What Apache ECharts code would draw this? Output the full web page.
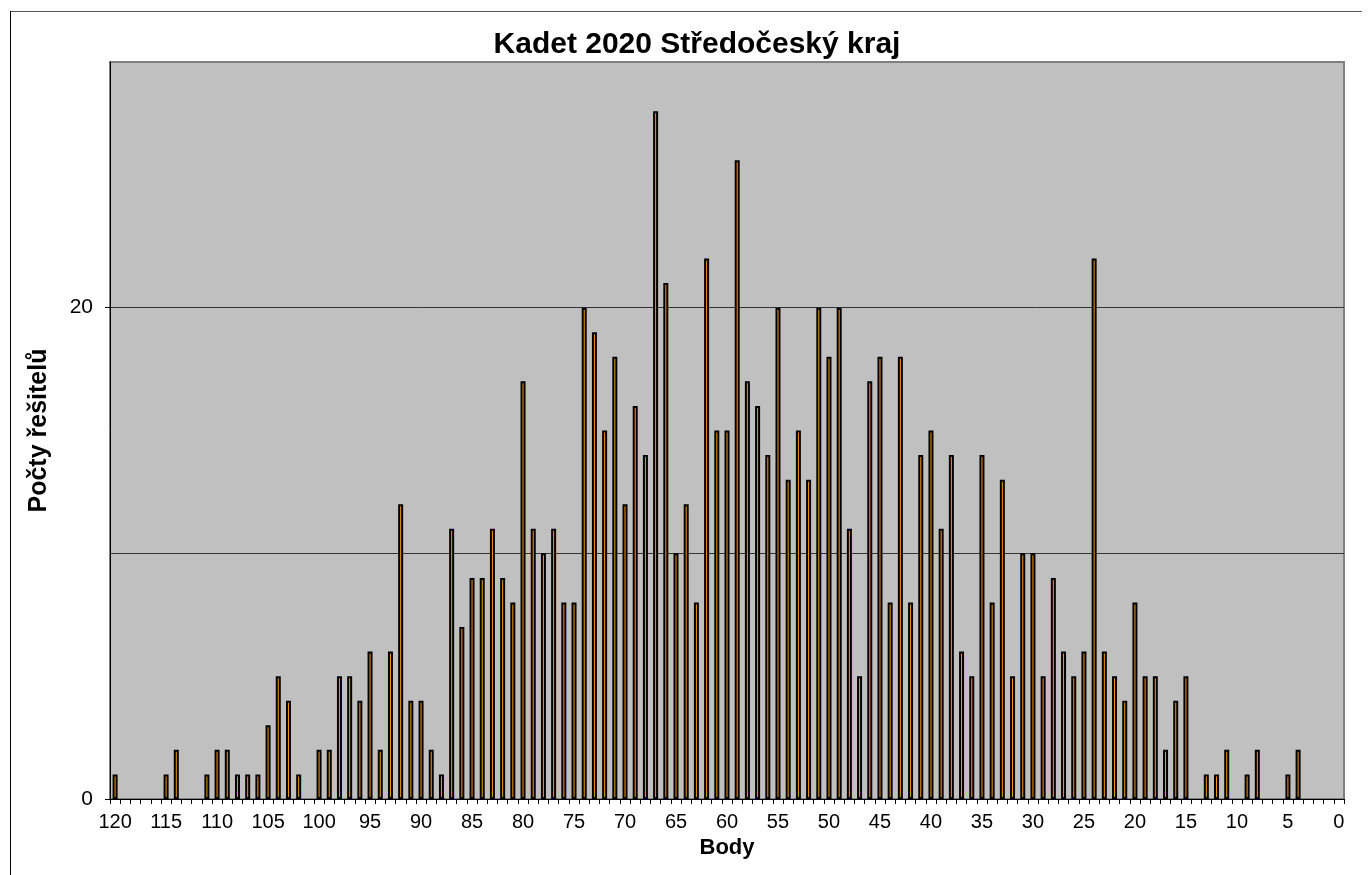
<!DOCTYPE html>
<html>
<head>
<meta charset="utf-8">
<script src="https://cdn.jsdelivr.net/npm/echarts@6/dist/echarts.min.js"></script>
<style>
html,body{margin:0;padding:0;background:#fff;}
#chart{width:1370px;height:875px;}
</style>
</head>
<body>
<div id="chart"></div>
<script>
var titleText = 'Kadet 2020 Středočeský kraj';
var xAxisName = 'Body';
var yAxisName = 'Počty řešitelů';
var categories = [
  '120','119','118','117','116','115','114','113','112','111',
  '110','109','108','107','106','105','104','103','102','101',
  '100','99','98','97','96','95','94','93','92','91',
  '90','89','88','87','86','85','84','83','82','81',
  '80','79','78','77','76','75','74','73','72','71',
  '70','69','68','67','66','65','64','63','62','61',
  '60','59','58','57','56','55','54','53','52','51',
  '50','49','48','47','46','45','44','43','42','41',
  '40','39','38','37','36','35','34','33','32','31',
  '30','29','28','27','26','25','24','23','22','21',
  '20','19','18','17','16','15','14','13','12','11',
  '10','9','8','7','6','5','4','3','2','1',
  '0'
];
var counts = [
  1,0,0,0,0,1,2,0,0,1,
  2,2,1,1,1,3,5,4,1,0,
  2,2,5,5,4,6,2,6,12,4,
  4,2,1,11,7,9,9,11,9,8,
  17,11,10,11,8,8,20,19,15,18,
  12,16,14,28,21,10,12,8,22,15,
  15,26,17,16,14,20,13,15,13,20,
  18,20,11,5,17,18,8,18,8,14,
  15,11,14,6,5,14,8,13,5,10,
  10,5,9,6,5,6,22,6,5,4,
  8,5,5,2,4,5,0,1,1,2,
  0,1,2,0,0,1,2,0,0,0,
  0
];
var yTickLabels = [0, 20];

var FONT = "Arial, 'Liberation Sans', sans-serif";
var chart = echarts.init(document.getElementById('chart'), null, {renderer: 'canvas'});
chart.setOption({
  animation: false,
  backgroundColor: '#ffffff',
  title: {
    text: titleText,
    left: 692,
    textAlign: 'center',
    top: 25,
    textStyle: {fontFamily: FONT, fontSize: 30, fontWeight: 'bold', color: '#000'}
  },
  graphic: [
    {type: 'line', shape: {x1: 10, y1: 11.5, x2: 1362, y2: 11.5}, style: {stroke: '#555', lineWidth: 1}},
    {type: 'line', shape: {x1: 10.5, y1: 11, x2: 10.5, y2: 875}, style: {stroke: '#000', lineWidth: 1}}
  ],
  grid: {
    left: 110, right: 26, top: 62, bottom: 76,
    show: true, backgroundColor: '#c0c0c0', borderColor: '#808080', borderWidth: 2
  },
  xAxis: {
    type: 'category',
    data: categories,
    name: xAxisName,
    nameLocation: 'middle',
    nameGap: 31,
    nameTextStyle: {fontFamily: FONT, fontSize: 22, fontWeight: 'bold', color: '#000'},
    axisLine: {lineStyle: {color: '#000', width: 1}},
    axisTick: {show: true, interval: 0, length: 5, lineStyle: {color: '#000'}},
    axisLabel: {interval: 4, margin: 13, fontFamily: FONT, fontSize: 20, color: '#000'},
    splitLine: {show: false}
  },
  yAxis: [{
    type: 'value',
    min: 0, max: 30, interval: 10,
    name: yAxisName,
    nameLocation: 'middle',
    nameRotate: 90,
    nameGap: 58,
    nameTextStyle: {fontFamily: FONT, fontSize: 25, fontWeight: 'bold', color: '#000'},
    axisLine: {show: true, lineStyle: {color: '#000', width: 1}},
    axisTick: {show: false},
    axisLabel: {
      margin: 17, fontFamily: FONT, fontSize: 21, color: '#000',
      customValues: yTickLabels
    },
    splitLine: {show: true, lineStyle: {color: ['#808080', '#333333', '#333333', '#808080'], width: 1}}
  }, {
    type: 'value',
    position: 'left',
    min: 0, max: 30, interval: 10,
    axisLine: {show: false},
    axisTick: {show: true, length: 5, customValues: yTickLabels, lineStyle: {color: '#000'}},
    axisLabel: {show: false},
    splitLine: {show: false}
  }],
  series: [{
    type: 'bar',
    yAxisIndex: 0,
    data: counts.map(function (v) { return v === 0 ? null : v; }),
    barWidth: 5,
    itemStyle: {color: '#ff9900', borderColor: '#000', borderWidth: 2}
  }]
});
</script>
</body>
</html>
